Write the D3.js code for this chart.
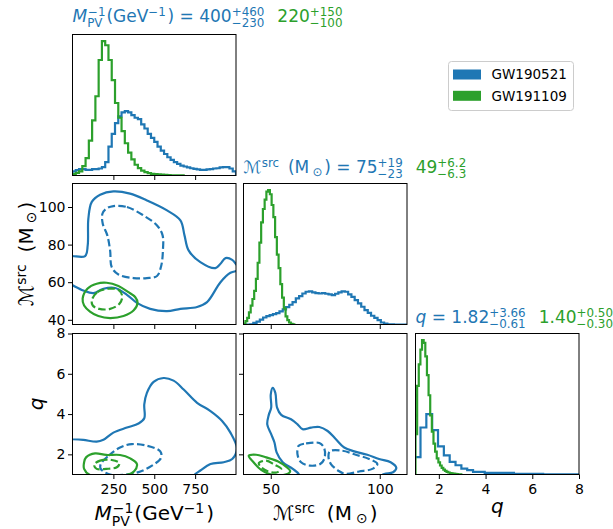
<!DOCTYPE html>
<html><head><meta charset="utf-8">
<script src="https://cdn.jsdelivr.net/npm/d3@7"></script>
<style>
body{margin:0;background:#fff}
svg text{font-family:"DejaVu Sans",sans-serif}
</style>
</head><body>
<svg id="c" width="613" height="529"></svg>
<script>
// ---------------- data ----------------
const eventNames = ["GW190521", "GW191109"];
const eventColors = ["#1f77b4", "#2ca02c"];

const mpvDomain = [0, 1000];
const mcDomain = [37.5, 112.5];
const qDomain = [1, 8];
const mpvTicks = [250, 500, 750];
const mcTicksX = [50, 100];
const mcTicksY = [40, 60, 80, 100];
const qTicks = [2, 4, 6, 8];

// 1D marginal histograms (relative heights)
const mpvBlueStart = 0, mpvBlueWidth = 20;
const mpvHistBlue = [0.03,0.04,0.047,0.047,0.042,0.042,0.047,0.047,0.052,0.062,
  0.10,0.215,0.31,0.39,0.44,0.47,0.48,0.47,0.45,0.43,
  0.42,0.38,0.35,0.31,0.28,0.25,0.215,0.185,0.16,0.136,
  0.116,0.10,0.087,0.074,0.067,0.06,0.054,0.05,0.045,0.042,
  0.042,0.045,0.047,0.052,0.054,0.06,0.062,0.062,0.052,0.03];
const mpvGreenStart = 0, mpvGreenWidth = 20;
const mpvHistGreen = [0.01,0.02,0.03,0.07,0.13,0.26,0.41,0.59,0.86,1.0,
  0.97,0.86,0.71,0.54,0.43,0.33,0.24,0.17,0.12,0.08,
  0.055,0.037,0.025,0.017,0.012,0.01,0.008,0.006,0.004,0.003,
  0.002,0.002,0.001,0.001];

const mcBlueStart = 37.5, mcBlueWidth = 1.5;
const mcHistBlue = [0,0,0.002,0.012,0.022,0.037,0.052,0.062,0.07,0.077,
  0.085,0.097,0.112,0.13,0.147,0.167,0.194,0.211,0.231,0.244,
  0.246,0.239,0.234,0.231,0.234,0.229,0.224,0.219,0.229,0.239,
  0.246,0.244,0.224,0.206,0.182,0.157,0.132,0.107,0.087,0.065,
  0.05,0.032,0.015,0.007,0.002,0.001,0,0,0,0];
const mcGreenStart = 37.6, mcGreenWidth = 0.8;
const mcHistGreen = [0.007,0.025,0.05,0.09,0.14,0.19,0.25,0.34,0.46,0.61,
  0.76,0.86,0.93,0.99,1.0,0.97,0.89,0.80,0.65,0.52,
  0.42,0.30,0.20,0.12,0.06,0.032,0.015,0.005,0.002];

const qBlueStart = 0.964, qBlueWidth = 0.25;
const qHistBlue = [0.13,0.35,0.45,0.33,0.21,0.143,0.094,0.069,0.044,0.032,
  0.02,0.02,0.012,0.012,0.012,0.012,0.012,0.005,0.005,0.005,
  0.005,0.005,0.002,0.002,0.002,0.002,0.002,0.002,0.002];
const qGreenStart = 1.0, qGreenWidth = 0.07;
const qHistGreen = [0.30,0.66,0.82,0.93,1.0,0.98,0.88,0.74,0.59,0.44,
  0.32,0.23,0.17,0.12,0.09,0.067,0.05,0.037,0.027,0.02,
  0.015,0.011,0.008,0.006,0.004,0.003,0.002,0.001];

// 2D credible contours (outer = solid, inner = dashed)
const mpvMcBlueOuter = [[-40,73.3],[77,73.9],[93,79.6],[97,93.8],[118,102.7],[169,106.5],[250,108.3],[352,107.1],[455,103.5],[578,98.2],[660,92.9],[685,84.9],[710,76.9],[782,70.7],[874,67.5],[905,69.8],[936,72.8],[977,71.9],[1011,68.6],[1050,67],[1011,66.1],[966,65],[905,60],[823,49.4],[762,46.8],[660,45.8],[578,44.6],[475,45.8],[394,49],[333,53.3],[261,56.9],[189,56.5],[128,54.2],[66,55.6],[-5,58.6],[-40,60]];
const mpvMcBlueInner = [[250,100.5],[333,100],[434,95.5],[517,90.2],[551,84.9],[553,76.9],[543,68.9],[517,63.3],[455,62.2],[373,62.2],[281,64.1],[240,68],[230,76.9],[213,84.9],[185,91.1],[183,96.4],[206,99.1]];
const mpvMcGreenOuter = [[62,51.2],[91,56.5],[148,59.2],[209,59.7],[281,58],[342,54.7],[383,52.1],[398,49],[373,44.9],[312,42],[230,40.9],[158,42],[107,44.4],[71,47.6]];
const mpvMcGreenInner = [[118,50.3],[152,54.7],[220,56.5],[281,56],[304,52.6],[287,48.5],[230,45.8],[164,45.8],[124,47.6]];

const mpvQBlueOuter = [[-40,2.75],[1,2.75],[66,2.72],[148,2.63],[189,2.72],[250,3.08],[333,3.33],[404,3.53],[439,3.79],[439,4.48],[455,5.05],[496,5.6],[557,5.79],[618,5.66],[680,5.22],[762,4.56],[844,4.15],[915,3.66],[966,3.08],[1005,2.3],[977,1.77],[925,1.61],[844,1.52],[782,1.2],[741,0.95],[700,0.5],[-40,0.5]];
const mpvQBlueInner = [[173,1.52],[220,1.93],[291,2.34],[363,2.51],[455,2.43],[537,2.15],[541,1.82],[486,1.44],[404,1.12],[312,0.98],[230,1.0],[173,1.28]];
const mpvQGreenOuter = [[83,1.85],[138,2.05],[206,1.97],[291,1.97],[353,1.8],[394,1.52],[377,1.16],[333,0.98],[107,0.98],[71,1.28],[71,1.61]];
const mpvQGreenInner = [[132,1.48],[169,1.69],[240,1.72],[287,1.56],[271,1.36],[206,1.28],[148,1.28]];

const mcQBlueOuter = [[50.9,5.3],[52.1,5.05],[52.9,4.32],[54.8,3.96],[59.3,3.74],[62.3,3.49],[64.6,3.25],[68.5,3.33],[72.3,3.36],[76.1,3.16],[79.9,2.75],[83.7,2.34],[88.3,2.15],[94.3,1.98],[99.7,1.77],[105,1.61],[107.6,1.33],[106.1,1.11],[101.2,0.98],[101,0.5],[63,0.5],[63.1,0.98],[60.1,1.28],[55.5,1.61],[52.7,2.1],[51.7,2.59],[50.2,3.0],[48.4,3.49],[49.1,3.96],[50.2,4.32],[50,4.97]];
const mcQBlueInnerA = [[62.8,2.43],[66.2,2.54],[72.3,2.56],[74.5,2.31],[74.7,1.82],[72.7,1.52],[68,1.44],[63.9,1.61],[62.3,1.98]];
const mcQBlueInnerB = [[77.1,2.15],[82.9,2.18],[89,1.98],[95.1,1.77],[98.9,1.52],[96.6,1.28],[90.5,1.15],[84.5,1.03],[81.4,1.16],[77.6,1.52],[76.5,1.85]];
const mcQGreenOuter = [[39.9,1.93],[43.3,1.98],[47.9,1.85],[53.2,1.66],[57,1.39],[58.9,1.16],[56.7,1.0],[50.2,1.0],[45.6,1.23],[42.1,1.61]];
const mcQGreenInner = [[44.5,1.56],[47.9,1.69],[51.7,1.49],[54.8,1.28],[52.7,1.1],[48.6,1.16],[45.6,1.36]];

// ---------------- layout ----------------
const svg = d3.select("#c");
const cols = [72.5, 243.5, 415.5], rows = [34.5, 183.5, 333.5], W = 163.5, H = 141;
const BLUE = eventColors[0], GREEN = eventColors[1];
const TICK_FS = 14;
const LW = 2.2;

const xs = [
  d3.scaleLinear(mpvDomain, [cols[0], cols[0] + W]),
  d3.scaleLinear(mcDomain, [cols[1], cols[1] + W]),
  d3.scaleLinear(qDomain, [cols[2], cols[2] + W])
];
const ys = [
  null,
  d3.scaleLinear(mcDomain, [rows[1] + H, rows[1]]),
  d3.scaleLinear(qDomain, [rows[2] + H, rows[2]])
];
const xTickVals = [mpvTicks, mcTicksX, qTicks];
const yTickVals = [null, mcTicksY, qTicks];

const defs = svg.append("defs");
function clipFor(r, c) {
  const id = "clip" + r + c;
  defs.append("clipPath").attr("id", id).append("rect")
    .attr("x", cols[c]).attr("y", rows[r]).attr("width", W).attr("height", H);
  return "url(#" + id + ")";
}

function histPts(start, width, heights) {
  const pts = [[start, 0]];
  heights.forEach((h, i) => { pts.push([start + i * width, h]); pts.push([start + (i + 1) * width, h]); });
  pts.push([start + heights.length * width, 0]);
  return pts;
}

function drawHist(r, c, series) {
  const maxH = d3.max(series.flatMap(s => s.h));
  const y = d3.scaleLinear([0, maxH * 1.05], [rows[r] + H, rows[r]]);
  const g = svg.append("g").attr("clip-path", clipFor(r, c));
  const line = d3.line().x(d => xs[c](d[0])).y(d => y(d[1]));
  series.forEach(s => {
    g.append("path").attr("d", line(histPts(s.start, s.width, s.h)))
      .attr("fill", "none").attr("stroke", s.color).attr("stroke-width", LW)
      .attr("stroke-linejoin", "miter");
  });
}

function drawContours(r, c, curves) {
  const g = svg.append("g").attr("clip-path", clipFor(r, c));
  const line = d3.line().x(d => xs[c](d[0])).y(d => ys[r](d[1])).curve(d3.curveCatmullRomClosed.alpha(0.5));
  curves.forEach(k => {
    g.append("path").attr("d", line(k.pts)).attr("fill", "none")
      .attr("stroke", k.color).attr("stroke-width", LW)
      .attr("stroke-dasharray", k.dash ? "7.4,3.2" : null);
  });
}

// diagonals
drawHist(0, 0, [
  {start: mpvBlueStart, width: mpvBlueWidth, h: mpvHistBlue, color: BLUE},
  {start: mpvGreenStart, width: mpvGreenWidth, h: mpvHistGreen, color: GREEN}]);
drawHist(1, 1, [
  {start: mcBlueStart, width: mcBlueWidth, h: mcHistBlue, color: BLUE},
  {start: mcGreenStart, width: mcGreenWidth, h: mcHistGreen, color: GREEN}]);
drawHist(2, 2, [
  {start: qBlueStart, width: qBlueWidth, h: qHistBlue, color: BLUE},
  {start: qGreenStart, width: qGreenWidth, h: qHistGreen, color: GREEN}]);

// off-diagonals
drawContours(1, 0, [
  {pts: mpvMcBlueOuter, color: BLUE}, {pts: mpvMcBlueInner, color: BLUE, dash: true},
  {pts: mpvMcGreenOuter, color: GREEN}, {pts: mpvMcGreenInner, color: GREEN, dash: true}]);
drawContours(2, 0, [
  {pts: mpvQBlueOuter, color: BLUE}, {pts: mpvQBlueInner, color: BLUE, dash: true},
  {pts: mpvQGreenOuter, color: GREEN}, {pts: mpvQGreenInner, color: GREEN, dash: true}]);
drawContours(2, 1, [
  {pts: mcQBlueOuter, color: BLUE}, {pts: mcQBlueInnerA, color: BLUE, dash: true},
  {pts: mcQBlueInnerB, color: BLUE, dash: true},
  {pts: mcQGreenOuter, color: GREEN}, {pts: mcQGreenInner, color: GREEN, dash: true}]);

// axes, ticks, spines
const fmt = d3.format("d");
for (let r = 0; r < 3; r++) {
  for (let c = 0; c <= r; c++) {
    const bottom = r === 2;
    const ax = d3.axisBottom(xs[c]).tickValues(xTickVals[c]).tickSize(4.5).tickSizeOuter(0).tickPadding(5.5)
      .tickFormat(bottom ? fmt : "");
    const gx = svg.append("g").attr("transform", `translate(0,${rows[r] + H})`).call(ax);
    gx.select(".domain").remove();
    gx.selectAll("text").attr("font-size", TICK_FS).attr("fill", "#000").style("font-family", "DejaVu Sans");
    gx.selectAll("line").attr("stroke", "#000");
    if (r !== c) {
      const ay = d3.axisLeft(ys[r]).tickValues(yTickVals[r]).tickSize(4.5).tickSizeOuter(0).tickPadding(2.5)
        .tickFormat(c === 0 ? fmt : "");
      const gy = svg.append("g").attr("transform", `translate(${cols[c]},0)`).call(ay);
      gy.select(".domain").remove();
      gy.selectAll("text").attr("font-size", TICK_FS).attr("fill", "#000").style("font-family", "DejaVu Sans");
      gy.selectAll("line").attr("stroke", "#000");
    }
    svg.append("rect").attr("x", cols[c]).attr("y", rows[r]).attr("width", W).attr("height", H)
      .attr("fill", "none").attr("stroke", "#000").attr("stroke-width", 1);
  }
}

// ---------------- math-like text ----------------
function mathText(parent, segs, size, color, gapEm) {
  const g = parent.append("g");
  let cx = 0;
  const mk = (str, x, y, fs, it) => {
    const t = g.append("text").attr("x", x).attr("y", y).attr("font-size", fs)
      .attr("fill", color).style("white-space", "pre").text(str);
    if (it) t.attr("font-style", "italic");
    return t.node().getComputedTextLength();
  };
  segs.forEach((s, i) => {
    if (s.pre) cx += s.pre * size;
    if (s.t) cx += mk(s.t, cx, 0, size, s.it);
    if (s.sup || s.sub) {
      if (s.subPre) cx += s.subPre * size;
      let w = 0;
      if (s.sup) w = Math.max(w, mk(s.sup, cx + (s.it ? size * 0.05 : 0), -size * 0.36, size * 0.7, false));
      if (s.sub) w = Math.max(w, mk(s.sub, cx, size * (s.subDy || 0.31), size * 0.7, false));
      cx += w;
      if (i < segs.length - 1) cx += size * gapEm;
    }
  });
  return {g, w: cx};
}

const titleFS = 17;
function title(c, y, blueSegs, greenSegs) {
  const b = mathText(svg, blueSegs, titleFS, BLUE, 0.1);
  b.g.attr("transform", `translate(${cols[c]},${y})`);
  const gr = mathText(svg, greenSegs, titleFS, GREEN, 0.1);
  gr.g.attr("transform", `translate(${cols[c] + b.w + 13},${y})`);
}
title(0, 22,
  [{t: "M", it: true, sup: "\u22121", sub: "PV"}, {t: "(GeV", sup: "\u22121"}, {t: ") = 400", sup: "+460", sub: "\u2212230"}],
  [{t: "220", sup: "+150", sub: "\u2212100"}]);
title(1, 173,
  [{t: "\u2133", sup: "src"}, {t: "(M", pre: 0.42, subPre: 0.2, sub: "\u2299", subDy: 0.15}, {t: ") = 75", sup: "+19", sub: "\u221223"}],
  [{t: "49", sup: "+6.2", sub: "\u22126.3"}]);
title(2, 323,
  [{t: "q", it: true}, {t: " = 1.82", sup: "+3.66", sub: "\u22120.61"}],
  [{t: "1.40", sup: "+0.50", sub: "\u22120.30"}]);

// axis labels
const labFS = 20;
const mpvLabel = [{t: "M", it: true, sup: "\u22121", sub: "PV"}, {t: "(GeV", sup: "\u22121"}, {t: ")"}];
const mcLabel = [{t: "\u2133", sup: "src"}, {t: "(M", pre: 0.5, subPre: 0.2, sub: "\u2299", subDy: 0.15}, {t: ")"}];
const qLabel = [{t: "q", it: true}];

let L = mathText(svg, mpvLabel, labFS, "#000", 0.1);
L.g.attr("transform", `translate(${cols[0] + W / 2 - L.w / 2},520)`);
L = mathText(svg, mcLabel, labFS, "#000", 0.1);
L.g.attr("transform", `translate(${cols[1] + W / 2 - L.w / 2},520)`);
L = mathText(svg, qLabel, labFS, "#000", 0.1);
L.g.attr("transform", `translate(${cols[2] + W / 2 - L.w / 2},513)`);
L = mathText(svg, mcLabel, labFS, "#000", 0.1);
L.g.attr("transform", `translate(33,${rows[1] + H / 2 + L.w / 2}) rotate(-90)`);
L = mathText(svg, qLabel, labFS, "#000", 0.1);
L.g.attr("transform", `translate(42.5,${rows[2] + H / 2 + L.w / 2}) rotate(-90)`);

// legend
const lg = svg.append("g");
lg.append("rect").attr("x", 448.5).attr("y", 61.5).attr("width", 125).attr("height", 49)
  .attr("rx", 3).attr("fill", "#fff").attr("fill-opacity", 0.8).attr("stroke", "#cccccc");
eventNames.forEach((n, i) => {
  lg.append("rect").attr("x", 453).attr("y", 69.5 + i * 21.3).attr("width", 28).attr("height", 10)
    .attr("fill", eventColors[i]);
  lg.append("text").attr("x", 491.5).attr("y", 79.3 + i * 21.3).attr("font-size", 13.5)
    .attr("fill", "#000").text(n);
});
</script>
</body></html>
